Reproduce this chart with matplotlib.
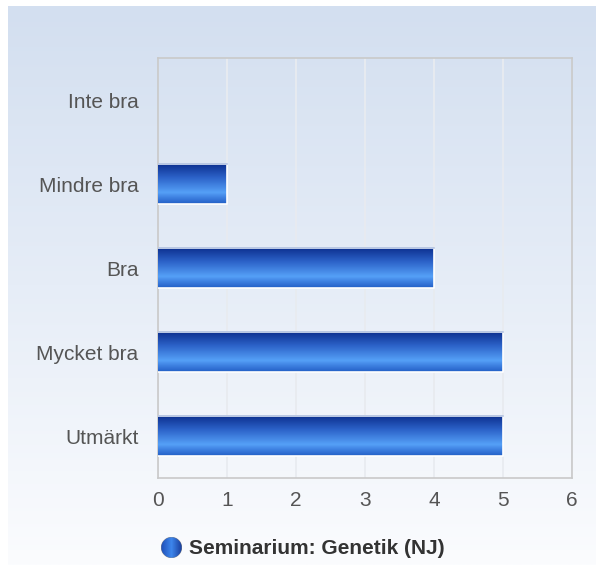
import numpy as np
import matplotlib
matplotlib.use("Agg")
from matplotlib import pyplot as plt
from matplotlib.colors import LinearSegmentedColormap

categories = ["Utmärkt", "Mycket bra", "Bra", "Mindre bra", "Inte bra"]
values = [5, 5, 4, 1, 0]
x_ticks = [0, 1, 2, 3, 4, 5, 6]
series_name = "Seminarium: Genetik (NJ)"

plt.rcParams['font.family'] = ['Liberation Sans', 'DejaVu Sans']

W, H = 596, 565
fig = plt.figure(figsize=(W / 100, H / 100), dpi=100)

# background gradient (light blue top -> white bottom)
bg = fig.add_axes([8 / W, 0, 1 - 8 / W, 1 - 6 / H])
bg_cmap = LinearSegmentedColormap.from_list("bg", ["#d3dff0", "#e6edf7", "#fbfcfe"])
bg.imshow(np.linspace(0, 1, 256).reshape(-1, 1), aspect='auto', cmap=bg_cmap,
          extent=[0, 1, 0, 1], origin='upper')
bg.axis('off')

left, right, top, bottom = 158, 572, 58, 478
ax = fig.add_axes([left / W, 1 - bottom / H, (right - left) / W, (bottom - top) / H])
ax.patch.set_alpha(0)

bar_cmap = LinearSegmentedColormap.from_list(
    "bar", [(0, "#0b2d8c"), (0.35, "#2c62c8"), (0.72, "#55a0f7"), (0.85, "#3d7fe0"), (1, "#2360c6")])
grad = np.linspace(0, 1, 128).reshape(-1, 1)
bh = 0.48
for i, v in enumerate(values):
    if v <= 0:
        continue
    ax.imshow(grad, aspect='auto', cmap=bar_cmap,
              extent=[0, v, i - bh / 2, i + bh / 2], origin='upper', zorder=3)
    ax.plot([0, v, v, 0], [i - bh / 2, i - bh / 2, i + bh / 2, i + bh / 2],
            color='white', lw=1.2, zorder=4)
    ax.plot([0, v], [i + bh / 2, i + bh / 2], color='#b4c3e2', lw=1.2, zorder=4)
ax.set_xlim(0, 6)
ax.set_ylim(-0.5, len(categories) - 0.5)

ax.set_xticks(x_ticks)
ax.set_yticks(range(len(categories)))
ax.set_yticklabels(categories)
ax.tick_params(length=0, labelsize=15, colors='#555555')
ax.tick_params(axis='x', pad=9)
ax.tick_params(axis='y', pad=14)
ax.grid(axis='x', color='#e8ebf0', lw=1.3, zorder=0)
ax.set_axisbelow(True)
for s in ax.spines.values():
    s.set_color('#c9c9c9')
    s.set_linewidth(1.2)

# legend
lax = fig.add_axes([160 / W, 1 - 560 / H, 22 / W, 24 / H])
lax.axis('off')
yy, xx = np.mgrid[-1:1:100j, -1:1:100j]
circ = np.ma.masked_where(xx ** 2 + yy ** 2 > 1, np.tile(np.linspace(0, 1, 100), (100, 1)))
leg_cmap = LinearSegmentedColormap.from_list("leg", ["#1f4fb8", "#3d86ec", "#1a3f9e"])
lax.imshow(circ, cmap=leg_cmap, extent=[-1, 1, -1, 1])
lax.set_xlim(-1.05, 1.05)
lax.set_ylim(-1.05, 1.05)
fig.text(189 / W, 1 - 549 / H, series_name, fontsize=15, fontweight='bold',
         color='#333333', va='center', ha='left')

fig.savefig("out.png", dpi=100)
